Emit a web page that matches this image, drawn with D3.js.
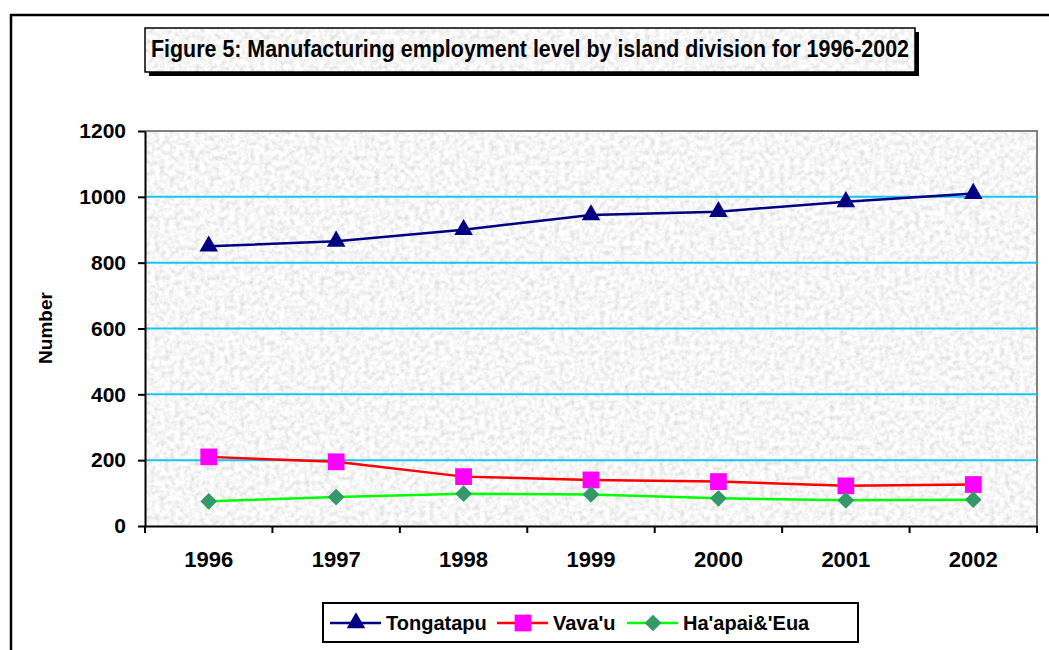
<!DOCTYPE html>
<html>
<head>
<meta charset="utf-8">
<script src="https://cdn.jsdelivr.net/npm/d3@7"></script>
<style>
    body { margin: 0; background: #fff; }
    text { font-family: Arial, "Liberation Sans", sans-serif; font-weight: bold; }
</style>
</head>
<body>
<div id="chart-area"></div>
<script>
// Data
const years = ["1996", "1997", "1998", "1999", "2000", "2001", "2002"];
const tongatapu = [850, 865, 900, 945, 955, 985, 1010];
const vavau = [210, 195, 150, 140, 135, 122, 126];
const haapai = [75, 88, 98, 96, 84, 78, 80];
const yTicks = [0, 200, 400, 600, 800, 1000, 1200];

const diamond = {
    draw: function(ctx, size) {
        const r = Math.sqrt(size / 2);
        ctx.moveTo(0, -r); ctx.lineTo(r, 0); ctx.lineTo(0, r); ctx.lineTo(-r, 0); ctx.closePath();
    }
};

const series = [
    { name: "Tongatapu", values: tongatapu, color: "#000080", symbol: d3.symbolTriangle, size: 150, fill: "#000080" },
    { name: "Vava'u", values: vavau, color: "#ff0000", symbol: d3.symbolSquare, size: 280, fill: "#ff00ff" },
    { name: "Ha'apai&'Eua", values: haapai, color: "#00ff00", symbol: diamond, size: 140, fill: "#339966" }
];

const margin = { left: 145, right: 12, top: 131, bottom: 124 },
    width = 1049 - margin.left - margin.right,
    height = 650 - margin.top - margin.bottom;

const svg = d3.select("#chart-area").append("svg")
    .attr("width", 1049)
    .attr("height", 650);

// granite-like texture
const defs = svg.append("defs");
const filt = defs.append("filter")
    .attr("id", "granite")
    .attr("x", 0).attr("y", 0).attr("width", 1).attr("height", 1);
filt.append("feTurbulence")
    .attr("type", "fractalNoise")
    .attr("baseFrequency", 0.2)
    .attr("numOctaves", 3)
    .attr("seed", 4);
filt.append("feColorMatrix")
    .attr("type", "matrix")
    .attr("values", "0.5 0 0 0 0.67  0.5 0 0 0 0.67  0.5 0 0 0 0.67  0 0 0 0 1");

// outer chart border (runs off the page)
svg.append("rect")
    .attr("x", 11).attr("y", 15)
    .attr("width", 1100).attr("height", 700)
    .attr("fill", "none")
    .attr("stroke", "#000")
    .attr("stroke-width", 2.5);

// Title box
svg.append("rect")
    .attr("x", 149).attr("y", 32)
    .attr("width", 770).attr("height", 44)
    .attr("fill", "#000");
svg.append("rect")
    .attr("x", 145).attr("y", 28)
    .attr("width", 770).attr("height", 44)
    .attr("filter", "url(#granite)");
svg.append("rect")
    .attr("x", 145).attr("y", 28)
    .attr("width", 770).attr("height", 44)
    .attr("fill", "none")
    .attr("stroke", "#000")
    .attr("stroke-width", 1.5);
svg.append("text")
    .attr("x", 530).attr("y", 57)
    .attr("text-anchor", "middle")
    .attr("font-size", "23px")
    .attr("textLength", 758)
    .attr("lengthAdjust", "spacingAndGlyphs")
    .text("Figure 5: Manufacturing employment level by island division for 1996-2002");

const g = svg.append("g")
    .attr("transform", "translate(" + margin.left + ", " + margin.top + ")");

// Scales
const x = d3.scaleBand().domain(years).range([0, width]);
const y = d3.scaleLinear().domain([0, 1200]).range([height, 0]);

// Plot background
g.append("rect")
    .attr("width", width)
    .attr("height", height)
    .attr("filter", "url(#granite)");
g.append("path")
    .attr("d", "M0,0H" + width + "V" + height)
    .attr("fill", "none")
    .attr("stroke", "#808080")
    .attr("stroke-width", 2);

// Gridlines
g.selectAll(".grid")
    .data(yTicks.filter(d => d > 0 && d < 1200))
    .enter().append("line")
    .attr("class", "grid")
    .attr("x1", 0).attr("x2", width)
    .attr("y1", d => y(d)).attr("y2", d => y(d))
    .attr("stroke", "#17c6f0")
    .attr("stroke-width", 2);

// Axes
const xAxisCall = d3.axisBottom(x).tickSize(0).tickPadding(25);
const xAxis = g.append("g")
    .attr("transform", "translate(0," + height + ")")
    .call(xAxisCall);
xAxis.select(".domain").attr("stroke", "#000").attr("stroke-width", 2);
xAxis.selectAll("text").attr("font-size", "22px").attr("fill", "#000")
    .attr("font-family", "Arial, 'Liberation Sans', sans-serif");
xAxis.selectAll(".bound")
    .data(d3.range(years.length + 1))
    .enter().append("line")
    .attr("class", "bound")
    .attr("x1", i => i * x.step()).attr("x2", i => i * x.step())
    .attr("y1", 0).attr("y2", 7)
    .attr("stroke", "#000").attr("stroke-width", 2);

const yAxisCall = d3.axisLeft(y).tickValues(yTicks).tickFormat(d3.format("d"))
    .tickSize(7).tickPadding(12).tickSizeOuter(0);
const yAxis = g.append("g").call(yAxisCall);
yAxis.select(".domain").attr("stroke", "#000").attr("stroke-width", 2);
yAxis.selectAll(".tick line").attr("stroke", "#000").attr("stroke-width", 2);
yAxis.selectAll("text").attr("font-size", "21px").attr("fill", "#000")
    .attr("font-family", "Arial, 'Liberation Sans', sans-serif");

// Y-Axis label
svg.append("text")
    .attr("transform", "translate(52," + 328 + ") rotate(-90)")
    .attr("text-anchor", "middle")
    .attr("font-size", "19px")
    .text("Number");

// Lines and markers
const line = d3.line()
    .x((d, i) => x(years[i]) + x.bandwidth() / 2)
    .y(d => y(d));

series.forEach(s => {
    g.append("path")
        .attr("d", line(s.values))
        .attr("fill", "none")
        .attr("stroke", s.color)
        .attr("stroke-width", 2.5);
    g.selectAll(null)
        .data(s.values)
        .enter().append("path")
        .attr("d", d3.symbol().type(s.symbol).size(s.size))
        .attr("transform", (d, i) => "translate(" + (x(years[i]) + x.bandwidth() / 2) + "," + y(d) + ")")
        .attr("fill", s.fill);
});

// Legend
const legend = svg.append("g").attr("transform", "translate(323,603)");
legend.append("rect")
    .attr("width", 535).attr("height", 39)
    .attr("fill", "#fff")
    .attr("stroke", "#000")
    .attr("stroke-width", 2);
const legendX = [7, 174, 304];
const legendItem = legend.selectAll(".item")
    .data(series)
    .enter().append("g")
    .attr("transform", (d, i) => "translate(" + legendX[i] + ",20)");
legendItem.append("line")
    .attr("x1", 0).attr("x2", 51)
    .attr("stroke", d => d.color)
    .attr("stroke-width", 2.5);
legendItem.append("path")
    .attr("d", d => d3.symbol().type(d.symbol).size(d.size)())
    .attr("transform", "translate(26,0)")
    .attr("fill", d => d.fill);
legendItem.append("text")
    .attr("x", 56).attr("y", 7)
    .attr("font-size", "20px")
    .text(d => d.name);
</script>
</body>
</html>
